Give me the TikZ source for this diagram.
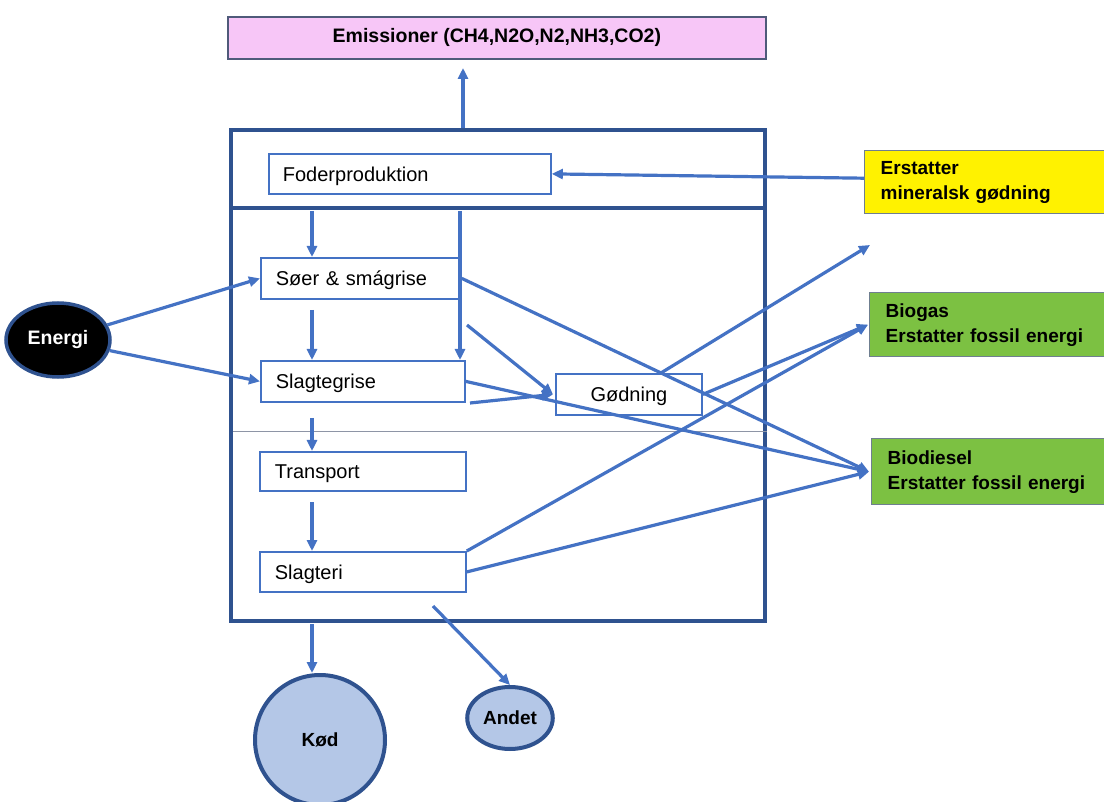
\documentclass[tikz,border=0pt]{standalone}
\usepackage{fontspec}
\setmainfont{Liberation Sans}
\usetikzlibrary{arrows.meta,calc,shapes.geometric}
\definecolor{lineblue}{HTML}{4472C4}
\definecolor{darkblue}{HTML}{2F528F}
\definecolor{emispink}{HTML}{F7C6F7}
\definecolor{emisborder}{HTML}{4F5A7A}
\definecolor{kodblue}{HTML}{B4C7E7}
\definecolor{biogreen}{HTML}{7CC142}
\definecolor{boxgray}{HTML}{6F7F90}
\definecolor{divgray}{HTML}{8E95A6}

\begin{document}
\begin{tikzpicture}[x=1pt,y=-1pt,
  font=\fontsize{20}{25}\selectfont,
  flow/.style={draw=lineblue, line width=3.2pt, -{Triangle[length=11pt,width=10pt]}},
  stage/.style={draw=lineblue, line width=1.8pt, fill=white, anchor=north west,
    minimum height=40pt, inner xsep=14pt, align=left, text depth=0pt},
  result/.style={draw=boxgray, line width=1.4pt, anchor=north west,
    inner xsep=16pt, align=left, font=\fontsize{19}{25}\selectfont\bfseries},
  blob/.style={draw=darkblue, line width=4pt, fill=kodblue,
    font=\fontsize{19}{25}\selectfont\bfseries}
]
\useasboundingbox (0,0) rectangle (1104,802);

% emissions box and the farm system frame
\node[draw=emisborder, line width=1.8pt, fill=emispink, anchor=north west,
  minimum width=538pt, minimum height=42pt,
  font=\fontsize{19.5}{22}\selectfont\bfseries] (emis) at (227,16) {Emissioner (CH4,N2O,N2,NH3,CO2)};
\node[draw=darkblue, line width=4pt, anchor=north west,
  minimum width=534pt, minimum height=491pt] (farm) at (229,128) {};
\draw[darkblue, line width=4pt] (farm.west |- 0,208) -- (farm.east |- 0,208);
\draw[divgray, line width=1pt] (233,432) -- (farm.east |- 0,432);

% production stages
\node[stage, text width=254pt] (foder) at (268,153) {Foderproduktion};
\node[stage, text width=170pt, inner xsep=15pt, minimum height=41pt] (soer) at (260,257) {Søer \& smágrise};
\node[stage, text width=174pt, inner xsep=15pt, minimum height=41pt] (slagt) at (260,360) {Slagtegrise};
\node[stage, text width=176pt, inner xsep=15pt, minimum height=39pt] (transport) at (259,451) {Transport};
\node[stage, text width=176pt, inner xsep=15pt] (slagteri) at (259,551) {Slagteri};
\node[stage, text width=146pt, inner xsep=0pt, align=center, minimum height=41pt] (godning) at (555,373) {Gødning};

% outputs on the right
\node[result, fill=yellow, text width=216pt, minimum height=63pt] (mineral) at (864,150) {Erstatter\\mineralsk gødning};
\node[result, fill=biogreen, text width=211pt, minimum height=64pt] (biogas) at (869,292) {Biogas\\Erstatter fossil energi};
\node[result, fill=biogreen, text width=209pt, minimum height=66pt] (biodiesel) at (871,438) {Biodiesel\\Erstatter fossil energi};

% energy input and final products
\node[ellipse, draw=darkblue, line width=3.5pt, fill=black, text=white,
  minimum width=104pt, minimum height=74pt,
  font=\fontsize{19.5}{25}\selectfont\bfseries] (energi) at (58,340) {Energi};
\node[blob, circle, minimum size=130pt] (kod) at (320,740) {Kød};
\node[blob, ellipse, minimum width=84pt, minimum height=62pt] (andet) at (510,718) {Andet};

% free ends of connectors
\coordinate (emtip) at (463,68);
\coordinate (f1) at (312,211);
\coordinate (f2) at (460,211);
\coordinate (s1) at (312,310);
\coordinate (s2) at (312,418);
\coordinate (s3) at (312,502);
\coordinate (sg) at (467,325);
\coordinate (tg) at (470,403);
\coordinate (up) at (870,245);
\coordinate (kodin) at (312,624);
\coordinate (andin) at (433,606);

% flows
\draw[flow] (farm.north -| emtip) -- (emtip);
\draw[flow] (mineral.west) ++(0,-4) -- (foder.east);
\draw[flow] (f1) -- (f1 |- soer.north);
\draw[flow] (f2) -- (f2 |- slagt.north);
\draw[flow] (s1) -- (s1 |- slagt.north);
\draw[flow] (s2) -- (s2 |- transport.north);
\draw[flow] (s3) -- (s3 |- slagteri.north);
\draw[flow] (energi) -- (soer.west);
\draw[flow] (energi) -- (slagt.west);
\draw[flow] (sg) -- ([xshift=-2pt]godning.west);
\draw[flow] (tg) -- ([xshift=-2pt]godning.west);
\draw[flow] ([xshift=32pt]godning.north) -- (up);
\draw[flow] (godning.east) -- ([xshift=-1pt]biogas.west);
\draw[flow] (slagteri.north east) -- ([xshift=-1pt]biogas.west);
\draw[flow] (soer.east) -- ([xshift=-2pt]biodiesel.west);
\draw[flow] (slagt.east) -- ([xshift=-2pt]biodiesel.west);
\draw[flow] (slagteri.east) -- ([xshift=-2pt]biodiesel.west);
\draw[flow] (kodin) -- (kodin |- kod.north);
\draw[flow] (andin) -- (andet.north);
\end{tikzpicture}
\end{document}
